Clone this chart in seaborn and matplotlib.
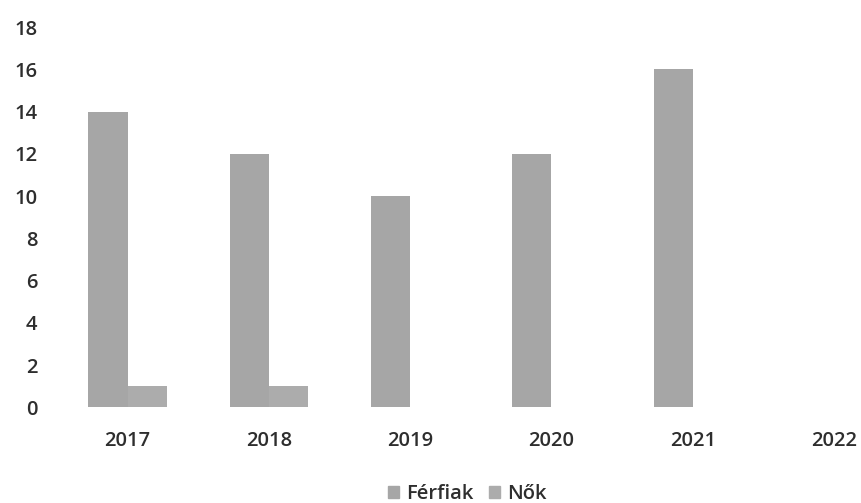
import pandas as pd
import matplotlib.pyplot as plt
import seaborn as sns
from matplotlib.patches import Patch

# data
years = ['2017', '2018', '2019', '2020', '2021', '2022']
ferfiak = [14, 12, 10, 12, 16, 0]
nok = [1, 1, 0, 0, 0, 0]

df = pd.DataFrame({
    'Év': years * 2,
    'Érték': ferfiak + nok,
    'Nem': ['Férfiak'] * len(years) + ['Nők'] * len(years),
})

sns.set_style('white')
plt.rcParams['font.family'] = ['Open Sans', 'DejaVu Sans']

fig = plt.figure(figsize=(8.62, 5.03), dpi=100)
# plot area runs past the right edge, like the scanned original
ax = fig.add_axes([0.066, 0.190, 0.9835, 0.756])

colors = {'Férfiak': '#a6a6a6', 'Nők': '#acacac'}
sns.barplot(data=df, x='Év', y='Érték', hue='Nem', palette=colors,
            width=0.553, gap=0, saturation=1, linewidth=0, ax=ax, legend=False)

ax.set_xlim(-0.5, 5.5)
ax.set_ylim(0, 18)
ax.set_yticks(range(0, 19, 2))
ax.set_xlabel('')
ax.set_ylabel('')
for s in ax.spines.values():
    s.set_visible(False)
ax.tick_params(axis='y', length=0, pad=14, labelsize=14.5, labelcolor='#2e2e2e')
ax.tick_params(axis='x', length=0, pad=17, labelsize=14.5, labelcolor='#2e2e2e')
for lbl in ax.get_xticklabels() + ax.get_yticklabels():
    lbl.set_fontweight('semibold')

handles = [Patch(color=colors['Férfiak'], label='Férfiak'),
           Patch(color=colors['Nők'], label='Nők')]
leg = fig.legend(handles=handles, loc='center', bbox_to_anchor=(0.542, 0.017),
                 ncol=2, frameon=False, fontsize=14.5, handlelength=0.55,
                 handleheight=0.55, handletextpad=0.35, columnspacing=0.8,
                 labelcolor='#2e2e2e')
for t in leg.get_texts():
    t.set_fontweight('semibold')

fig.savefig('out.png', dpi=100)
